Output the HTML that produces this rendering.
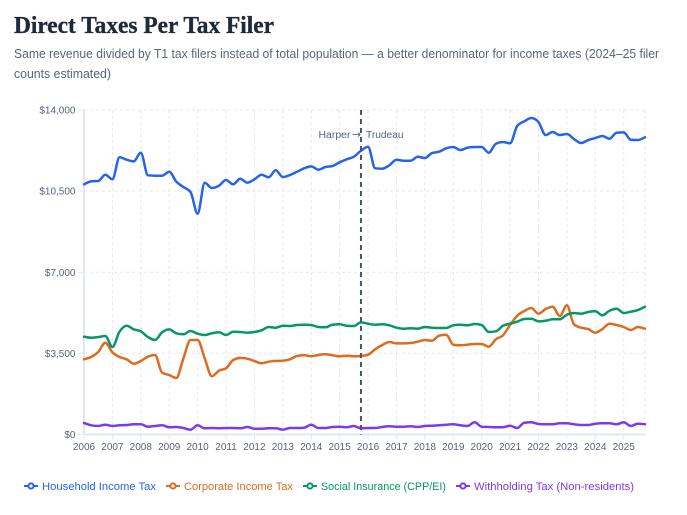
<!DOCTYPE html>
<html lang="en">
<head>
<meta charset="utf-8">
<title>Direct Taxes Per Tax Filer</title>
<style>
html,body{margin:0;padding:0;background:#fff;width:687px;height:515px;overflow:hidden}
svg{display:block}
text{font-family:"Liberation Sans",sans-serif}
.title{font-family:"Liberation Serif",serif;font-weight:700;font-size:24px;fill:#1e293b;stroke:#1e293b;stroke-width:0.35px}
.sub{font-size:12.5px;fill:#586679}
.tick{font-size:10px;fill:#566379}
.leg{font-size:11px}
</style>
</head>
<body>
<svg id="chart" width="687" height="515" viewBox="0 0 687 515" xmlns="http://www.w3.org/2000/svg">
  <text class="title" x="14" y="33" textLength="260" lengthAdjust="spacingAndGlyphs">Direct Taxes Per Tax Filer</text>
  <text class="sub" x="14" y="58" textLength="645" lengthAdjust="spacingAndGlyphs">Same revenue divided by T1 tax filers instead of total population — a better denominator for income taxes (2024–25 filer</text>
  <text class="sub" x="14" y="78" textLength="97" lengthAdjust="spacingAndGlyphs">counts estimated)</text>
  <g id="grid"></g>
  <g id="axes"></g>
  <g id="series"></g>
  <g id="annotation"></g>

  <g>
    <g>
      <line x1="24" x2="38" y1="486" y2="486" stroke="#2563eb" stroke-width="2"/>
      <circle cx="31" cy="486" r="2.6" fill="#fff" stroke="#2563eb" stroke-width="2"/>
      <text class="leg" x="42" y="490" fill="#2563eb" textLength="114" lengthAdjust="spacingAndGlyphs">Household Income Tax</text>
    </g>
    <g>
      <line x1="166" x2="180" y1="486" y2="486" stroke="#dd6b20" stroke-width="2"/>
      <circle cx="173" cy="486" r="2.6" fill="#fff" stroke="#dd6b20" stroke-width="2"/>
      <text class="leg" x="184" y="490" fill="#dd6b20" textLength="109" lengthAdjust="spacingAndGlyphs">Corporate Income Tax</text>
    </g>
    <g>
      <line x1="303" x2="317" y1="486" y2="486" stroke="#059669" stroke-width="2"/>
      <circle cx="310" cy="486" r="2.6" fill="#fff" stroke="#059669" stroke-width="2"/>
      <text class="leg" x="321" y="490" fill="#059669" textLength="125" lengthAdjust="spacingAndGlyphs">Social Insurance (CPP/EI)</text>
    </g>
    <g>
      <line x1="456" x2="470" y1="486" y2="486" stroke="#7c3aed" stroke-width="2"/>
      <circle cx="463" cy="486" r="2.6" fill="#fff" stroke="#7c3aed" stroke-width="2"/>
      <text class="leg" x="474" y="490" fill="#7c3aed" textLength="160" lengthAdjust="spacingAndGlyphs">Withholding Tax (Non-residents)</text>
    </g>
  </g>
</svg>
<script>
const yearTicks = [2006,2007,2008,2009,2010,2011,2012,2013,2014,2015,2016,2017,2018,2019,2020,2021,2022,2023,2024,2025];
const valueTicks = [0,3500,7000,10500,14000];
const valueTickLabels = ["$0","$3,500","$7,000","$10,500","$14,000"];
const householdIncomeTax = [10794,10923,10936,11208,11009,11959,11855,11786,12157,11182,11165,11165,11337,10906,10677,10461,9525,10863,10634,10733,10979,10794,11035,10863,11009,11208,11096,11398,11109,11195,11337,11484,11570,11424,11540,11583,11743,11872,11984,12243,12416,11484,11467,11613,11855,11812,11812,11984,11928,12144,12200,12347,12403,12273,12373,12403,12403,12157,12545,12619,12563,13309,13511,13654,13481,12920,13050,12920,12964,12748,12575,12705,12791,12877,12761,13020,13037,12718,12705,12821];
const corporateIncomeTax = [3244,3343,3559,3960,3546,3343,3244,3054,3171,3356,3430,2666,2567,2437,3287,4077,4077,3287,2511,2752,2856,3214,3300,3270,3171,3072,3141,3171,3184,3244,3386,3417,3374,3430,3460,3417,3374,3400,3374,3386,3443,3676,3861,3990,3934,3934,3947,4003,4077,4047,4262,4305,3874,3848,3874,3904,3904,3788,4107,4279,4724,5125,5328,5457,5211,5414,5513,5112,5574,4754,4607,4551,4392,4551,4780,4724,4638,4508,4638,4564];
const socialInsurance = [4219,4176,4206,4249,3775,4435,4694,4538,4452,4206,4077,4409,4538,4366,4323,4465,4349,4292,4366,4409,4292,4435,4422,4392,4422,4495,4638,4607,4694,4681,4724,4737,4724,4638,4625,4737,4754,4694,4681,4840,4780,4737,4754,4711,4607,4564,4582,4564,4638,4607,4594,4594,4711,4737,4711,4767,4724,4422,4452,4694,4780,4866,4983,4996,4883,4909,4970,4970,5168,5242,5211,5285,5315,5142,5341,5427,5242,5298,5371,5513];
const withholdingTax = [496,397,367,423,367,397,410,440,440,336,367,397,311,324,280,207,397,267,280,267,280,280,267,324,250,250,267,267,207,280,280,293,423,280,280,324,336,311,367,267,280,280,324,354,336,336,354,324,367,380,397,423,440,397,367,526,336,324,311,311,380,280,509,526,453,440,440,483,483,440,410,410,466,483,483,440,526,367,466,440];
const annotationYear = 2015.75;
const annotationParts = ["Harper", "→", "Trudeau"];

const svg = document.getElementById('chart');
const NS = 'http://www.w3.org/2000/svg';
const left = 84, right = 645, top_ = 110, bottom = 434.5;
const firstYear = 2006, lastYear = 2025.75, maxValue = 14000;
function xScale(year){ return left + (year - firstYear) / (lastYear - firstYear) * (right - left); }
function yScale(v){ return bottom - v / maxValue * (bottom - top_); }
function make(tag, attrs, parent){
  const el = document.createElementNS(NS, tag);
  for (const k in attrs) el.setAttribute(k, attrs[k]);
  parent.appendChild(el);
  return el;
}
function monotonePath(pts){
  const n = pts.length, d = [], m = new Array(n);
  for (let i = 0; i < n - 1; i++) d.push((pts[i+1][1] - pts[i][1]) / (pts[i+1][0] - pts[i][0]));
  m[0] = d[0]; m[n-1] = d[n-2];
  for (let i = 1; i < n - 1; i++){
    if (d[i-1] * d[i] <= 0) { m[i] = 0; continue; }
    const h0 = pts[i][0] - pts[i-1][0], h1 = pts[i+1][0] - pts[i][0];
    const p = (d[i-1] * h1 + d[i] * h0) / (h0 + h1);
    m[i] = (Math.sign(d[i-1]) + Math.sign(d[i])) * Math.min(Math.abs(d[i-1]), Math.abs(d[i]), 0.5 * Math.abs(p));
  }
  let s = 'M' + pts[0][0].toFixed(2) + ',' + pts[0][1].toFixed(2);
  for (let i = 0; i < n - 1; i++){
    const h = (pts[i+1][0] - pts[i][0]) / 3;
    s += 'C' + (pts[i][0] + h).toFixed(2) + ',' + (pts[i][1] + m[i] * h).toFixed(2) + ' ' +
         (pts[i+1][0] - h).toFixed(2) + ',' + (pts[i+1][1] - m[i+1] * h).toFixed(2) + ' ' +
         pts[i+1][0].toFixed(2) + ',' + pts[i+1][1].toFixed(2);
  }
  return s;
}

const gridG = document.getElementById('grid');
const axesG = document.getElementById('axes');
const gridStyle = {stroke:'#e2e8f0','stroke-width':1,'stroke-dasharray':'3 3',fill:'none'};

valueTicks.forEach(function(v, i){
  const y = yScale(v);
  if (v !== 0){
    const g = make('line', Object.assign({x1:left,x2:right,y1:y,y2:y}, gridStyle), gridG);
    
    
  }
  const yt = make('line', {x1:left-6,x2:left,y1:y,y2:y,stroke:'#e2e8f0','stroke-width':1}, axesG);
  
  
  const t = make('text', {x:75.5,y:y+3.5,'text-anchor':'end',class:'tick'}, axesG);
  t.textContent = valueTickLabels[i];
  
  
});

yearTicks.concat([lastYear]).forEach(function(yr, i){
  const x = xScale(yr);
  if (i !== 0){
    const g = make('line', Object.assign({x1:x,x2:x,y1:top_,y2:bottom}, gridStyle), gridG);
    
    
  }
  if (i < yearTicks.length){
    const tk = make('line', {x1:x,x2:x,y1:bottom,y2:bottom+5,stroke:'#e2e8f0','stroke-width':1}, axesG);
    
    
    const t = make('text', {x:x,y:450,'text-anchor':'middle',class:'tick'}, axesG);
    t.textContent = yr;
    
    
  }
});

const yAxisLine = make('line', {x1:left,x2:left,y1:top_,y2:bottom,stroke:'#e2e8f0','stroke-width':2}, axesG);


const xAxisLine = make('line', {x1:left,x2:right,y1:bottom,y2:bottom,stroke:'#e2e8f0','stroke-width':2}, axesG);



const seriesG = document.getElementById('series');
function drawSeries(values, color, name){
  const pts = values.map(function(v, i){ return [xScale(firstYear + i / 4), yScale(v)]; });
  const p = make('path', {d:monotonePath(pts),fill:'none',stroke:color,'stroke-width':2.5,'stroke-linejoin':'round','stroke-linecap':'round'}, seriesG);
  
  
}
drawSeries(householdIncomeTax, '#2563eb', 'household-income-tax-line');
drawSeries(corporateIncomeTax, '#dd6b20', 'corporate-income-tax-line');
drawSeries(socialInsurance, '#059669', 'social-insurance-line');
drawSeries(withholdingTax, '#7c3aed', 'withholding-tax-line');

const annG = document.getElementById('annotation');
const annX = xScale(annotationYear);
const annText = make('text', {y:138,class:'tick'}, annG);


const harperSpan = make('tspan', {x:318.5,textLength:32,lengthAdjust:'spacingAndGlyphs'}, annText);
harperSpan.textContent = annotationParts[0];
const arrowSpan = make('tspan', {x:352,style:'font-family:"DejaVu Sans",sans-serif;font-size:11px'}, annText);
arrowSpan.textContent = annotationParts[1];
const trudeauSpan = make('tspan', {x:366,textLength:37.5,lengthAdjust:'spacingAndGlyphs'}, annText);
trudeauSpan.textContent = annotationParts[2];
const annLine = make('line', {x1:annX,x2:annX,y1:top_,y2:bottom,stroke:'#475569','stroke-width':2,'stroke-dasharray':'5 4'}, annG);


</script>
</body>
</html>
